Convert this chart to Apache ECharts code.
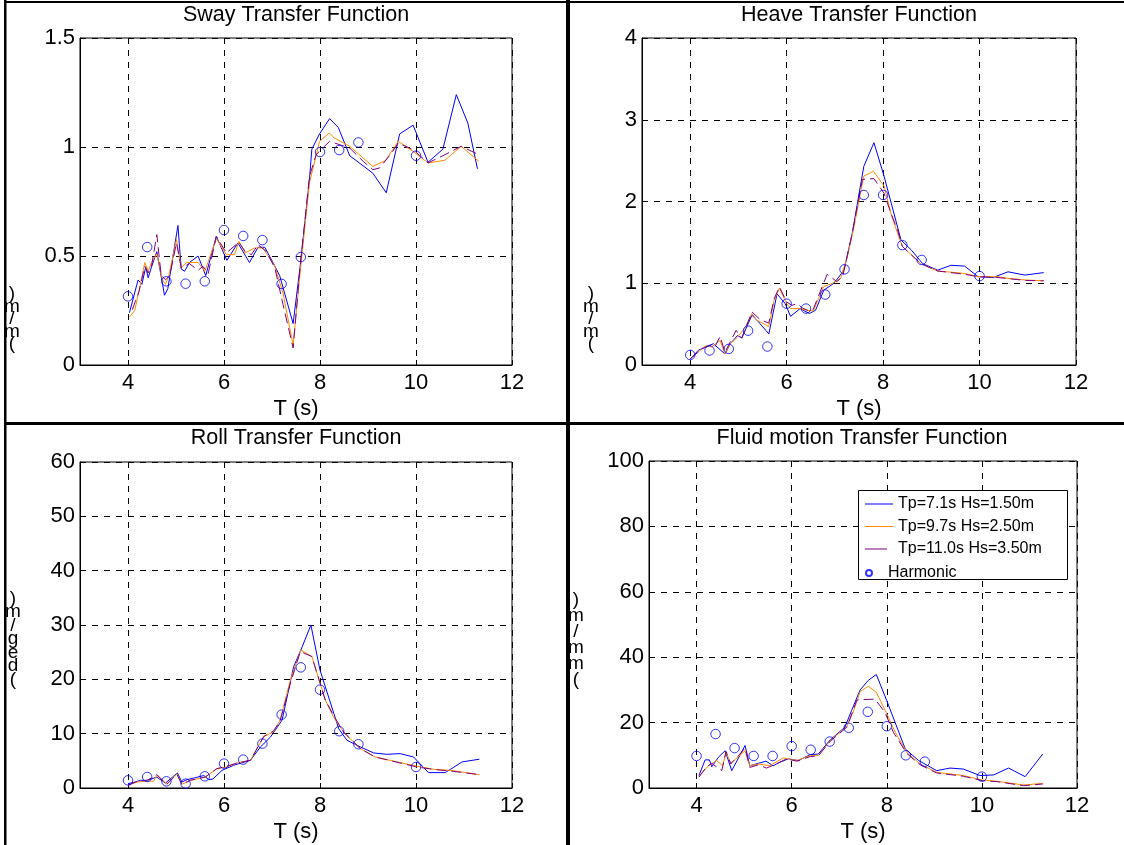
<!DOCTYPE html>
<html><head><meta charset="utf-8">
<script src="https://cdn.jsdelivr.net/npm/echarts@6/dist/echarts.min.js"></script>
<style>html,body{margin:0;padding:0;background:#fff}#c{width:1124px;height:845px}</style>
</head><body><div id="c"></div>
<script>
// ---------- data ----------
const xTicks = [4, 6, 8, 10, 12];
const seriesNames = ['Tp=7.1s Hs=1.50m', 'Tp=9.7s Hs=2.50m', 'Tp=11.0s Hs=3.50m', 'Harmonic'];
const harmonicT = [4.0, 4.4, 4.8, 5.2, 5.6, 6.0, 6.4, 6.8, 7.2, 7.6, 8.0, 8.4, 8.8, 10.0];

// Sway
const swayTp71 = [[4.03,0.24],[4.21,0.39],[4.29,0.37],[4.37,0.45],[4.42,0.40],[4.49,0.45],[4.60,0.52],[4.76,0.32],[4.83,0.35],[5.04,0.64],[5.11,0.44],[5.18,0.43],[5.28,0.47],[5.46,0.50],[5.62,0.41],[5.84,0.59],[6.06,0.48],[6.29,0.56],[6.53,0.47],[6.71,0.54],[6.85,0.54],[7.02,0.47],[7.16,0.41],[7.44,0.19],[7.58,0.44],[7.78,0.85],[7.83,0.99],[7.99,1.06],[8.20,1.13],[8.38,1.09],[8.62,0.96],[9.10,0.88],[9.38,0.79],[9.66,1.06],[9.94,1.10],[10.25,0.93],[10.56,0.99],[10.84,1.24],[11.08,1.11],[11.28,0.90]];
const swayTp97 = [[4.03,0.22],[4.14,0.25],[4.23,0.34],[4.35,0.47],[4.42,0.43],[4.49,0.47],[4.60,0.51],[4.72,0.39],[4.78,0.37],[4.85,0.41],[5.01,0.575],[5.11,0.445],[5.22,0.47],[5.46,0.47],[5.60,0.43],[5.84,0.58],[6.05,0.506],[6.22,0.506],[6.31,0.567],[6.44,0.514],[6.64,0.537],[6.81,0.537],[7.06,0.453],[7.23,0.33],[7.37,0.17],[7.44,0.09],[7.58,0.41],[7.78,0.835],[7.99,1.026],[8.19,1.064],[8.31,1.04],[8.62,1.003],[9.10,0.911],[9.37,0.939],[9.63,1.026],[9.94,0.98],[10.25,0.927],[10.60,0.939],[10.94,1.003],[11.31,0.934]];
const swayTp110 = [[4.09,0.254],[4.23,0.338],[4.35,0.453],[4.42,0.422],[4.49,0.453],[4.60,0.598],[4.69,0.414],[4.78,0.391],[4.87,0.41],[5.01,0.56],[5.11,0.445],[5.28,0.465],[5.46,0.434],[5.56,0.453],[5.67,0.419],[5.84,0.59],[6.05,0.514],[6.31,0.563],[6.44,0.521],[6.57,0.506],[6.71,0.552],[6.88,0.521],[7.06,0.445],[7.23,0.277],[7.44,0.078],[7.58,0.437],[7.78,0.865],[7.92,0.965],[8.20,1.026],[8.62,0.995],[8.90,0.934],[9.10,0.896],[9.24,0.904],[9.49,0.972],[9.63,1.018],[9.94,0.988],[10.25,0.927],[10.56,0.96],[10.94,1.003],[11.31,0.965]];
const swayHarmonic = [0.315,0.541,0.384,0.373,0.384,0.619,0.592,0.573,0.372,0.495,0.977,0.986,1.021,0.960];

// Heave
const heaveTp71 = [[4.0,0.074],[4.17,0.18],[4.31,0.22],[4.48,0.26],[4.72,0.135],[4.83,0.26],[4.98,0.36],[5.07,0.33],[5.28,0.61],[5.42,0.525],[5.63,0.38],[5.80,0.87],[5.97,0.75],[6.08,0.595],[6.28,0.69],[6.47,0.63],[6.6,0.67],[6.77,0.915],[6.98,1.0],[7.19,1.16],[7.36,1.61],[7.60,2.43],[7.81,2.72],[8.02,2.31],[8.37,1.53],[8.58,1.41],[8.82,1.24],[9.13,1.16],[9.41,1.22],[9.69,1.21],[9.97,1.08],[10.28,1.07],[10.59,1.14],[10.94,1.10],[11.33,1.13]];
const heaveTp97 = [[4.0,0.074],[4.24,0.197],[4.34,0.24],[4.44,0.22],[4.62,0.30],[4.72,0.135],[4.83,0.26],[4.98,0.34],[5.14,0.46],[5.28,0.63],[5.38,0.55],[5.63,0.47],[5.74,0.79],[5.85,0.94],[6.0,0.75],[6.08,0.69],[6.28,0.69],[6.42,0.67],[6.55,0.66],[6.77,0.96],[6.95,1.0],[7.12,1.06],[7.26,1.33],[7.4,1.70],[7.60,2.31],[7.80,2.37],[8.02,2.19],[8.16,1.86],[8.30,1.61],[8.40,1.45],[8.78,1.24],[9.13,1.15],[9.69,1.12],[9.97,1.08],[10.38,1.08],[10.59,1.06],[10.94,1.04],[11.33,1.03]];
const heaveTp110 = [[4.0,0.074],[4.24,0.197],[4.41,0.24],[4.51,0.22],[4.62,0.35],[4.72,0.156],[4.95,0.423],[5.07,0.33],[5.28,0.65],[5.45,0.554],[5.63,0.513],[5.74,0.81],[5.85,0.956],[6.0,0.77],[6.11,0.73],[6.22,0.75],[6.32,0.70],[6.46,0.66],[6.55,0.68],[6.84,1.11],[7.04,1.02],[7.16,1.08],[7.36,1.61],[7.57,2.27],[7.81,2.28],[8.02,2.1],[8.16,1.86],[8.30,1.65],[8.40,1.45],[8.78,1.24],[9.13,1.15],[9.69,1.11],[9.97,1.08],[10.38,1.07],[10.94,1.035],[11.33,1.03]];
const heaveHarmonic = [0.123,0.177,0.197,0.42,0.226,0.75,0.69,0.862,1.17,2.08,2.08,1.466,1.285,1.088];

// Roll
const rollTp71 = [[4.0,0.8],[4.15,1.1],[4.26,1.41],[4.40,1.41],[4.60,2.0],[4.78,0.92],[5.03,2.77],[5.12,1.1],[5.23,1.54],[5.40,1.9],[5.58,2.3],[5.68,1.54],[5.77,1.66],[5.96,3.26],[6.2,4.18],[6.55,5.1],[6.76,7.56],[6.97,9.4],[7.21,12.5],[7.45,22.3],[7.63,26.0],[7.81,30.0],[8.0,21.7],[8.39,10.9],[8.56,8.8],[8.84,7.56],[9.12,6.45],[9.40,6.2],[9.67,6.33],[9.95,5.7],[10.26,2.83],[10.61,2.83],[10.96,4.8],[11.32,5.3]];
const rollTp97 = [[4.0,0.5],[4.19,1.1],[4.40,1.3],[4.53,1.23],[4.60,2.3],[4.81,0.8],[5.02,2.6],[5.12,0.68],[5.30,1.41],[5.61,2.0],[5.85,3.56],[6.06,3.87],[6.27,4.6],[6.55,5.1],[6.83,9.5],[7.03,10.3],[7.17,12.5],[7.38,19.8],[7.60,25.4],[7.83,24.2],[8.11,16.2],[8.28,13.1],[8.49,10.3],[8.84,7.25],[9.15,5.7],[10.02,4.0],[10.4,3.4],[10.72,3.26],[11.32,2.46]];
const rollTp110 = [[4.0,0.5],[4.19,1.23],[4.40,1.41],[4.60,2.46],[4.81,0.68],[5.02,2.52],[5.12,0.68],[5.30,1.41],[5.61,2.03],[5.85,3.56],[6.06,4.0],[6.27,4.6],[6.55,5.1],[6.83,9.5],[7.03,10.5],[7.17,12.35],[7.38,19.2],[7.59,25.1],[7.83,24.2],[8.11,16.2],[8.28,13.4],[8.49,10.3],[8.84,7.25],[9.15,5.7],[10.02,3.87],[10.4,3.38],[10.72,3.13],[11.32,2.46]];
const rollHarmonic = [1.41,2.03,1.23,0.80,2.15,4.49,5.22,8.17,13.5,22.2,18.1,10.45,8.05,3.87];

// Fluid motion
const fluidTp71 = [[4.05,3.8],[4.18,8.6],[4.27,8.6],[4.32,6.5],[4.46,9.4],[4.6,11.4],[4.74,5.3],[5.02,13.0],[5.12,6.8],[5.3,7.55],[5.46,8.2],[5.61,6.8],[5.75,7.9],[5.93,8.9],[6.14,8.4],[6.39,10.2],[6.56,10.4],[6.81,14.7],[7.12,18.6],[7.26,23.7],[7.44,30.0],[7.61,32.9],[7.78,34.7],[8.0,26.7],[8.39,11.9],[8.67,8.4],[9.05,5.3],[9.33,6.1],[9.61,5.8],[9.96,3.8],[10.25,4.0],[10.56,6.1],[10.91,3.47],[11.28,10.4]];
const fluidTp97 = [[4.05,3.6],[4.25,6.8],[4.42,8.4],[4.55,6.8],[4.62,10.9],[4.72,7.6],[5.02,11.4],[5.12,6.8],[5.3,7.35],[5.54,6.8],[5.82,9.2],[6.11,8.4],[6.39,9.9],[6.56,9.9],[6.81,14.5],[7.16,18.8],[7.30,23.5],[7.44,29.5],[7.61,31.1],[7.78,29.3],[8.0,22.7],[8.18,17.0],[8.42,10.9],[8.70,7.35],[9.05,4.8],[9.61,3.8],[10.0,2.45],[10.32,2.04],[10.88,0.92],[11.28,1.43]];
const fluidTp110 = [[4.05,3.3],[4.21,6.5],[4.32,7.55],[4.53,5.3],[4.62,11.2],[4.72,7.35],[5.02,12.2],[5.12,6.3],[5.30,7.1],[5.47,6.1],[5.68,7.35],[5.89,8.9],[6.11,8.2],[6.39,9.6],[6.56,9.8],[6.81,14.3],[7.16,18.6],[7.37,26.9],[7.75,27.2],[7.96,23.2],[8.14,17.0],[8.42,10.6],[8.70,7.1],[9.05,4.6],[9.61,3.6],[10.0,2.25],[10.32,1.94],[10.88,0.71],[11.28,1.22]];
const fluidHarmonic = [9.8,16.5,12.2,9.8,9.8,12.8,11.7,14.2,18.4,23.3,18.9,10.0,8.06,3.47];

const panelTitles = ['Sway Transfer Function', 'Heave Transfer Function', 'Roll Transfer Function', 'Fluid motion Transfer Function'];
const yMax = [1.5, 4, 60, 100];
const yStep = [0.5, 1, 10, 20];

// ---------- chart ----------
const FF = '"Liberation Sans", Arial, sans-serif';
const colors = ['#0000ff', '#ff8c00', '#800080', '#0000ff'];
const panels = [
  [swayTp71, swayTp97, swayTp110, swayHarmonic],
  [heaveTp71, heaveTp97, heaveTp110, heaveHarmonic],
  [rollTp71, rollTp97, rollTp110, rollHarmonic],
  [fluidTp71, fluidTp97, fluidTp110, fluidHarmonic]
];
const grids = [
  {left: 80, top: 38, width: 432, height: 327},
  {left: 642, top: 38, width: 434, height: 327},
  {left: 80, top: 462, width: 432, height: 326},
  {left: 649, top: 461, width: 428, height: 327}
];
const titlePos = [[296, 4], [859, 4], [296, 427], [862, 427]];

const xAxis = grids.map((g, i) => ({
  type: 'value', gridIndex: i, min: 3, max: 12,
  axisLine: {show: true, onZero: false, lineStyle: {color: '#000', width: 1}},
  axisTick: {show: true, inside: true, length: 5, customValues: xTicks, lineStyle: {color: '#000'}},
  axisLabel: {customValues: xTicks, fontSize: 22, color: '#000', margin: 7, fontFamily: FF},
  splitLine: {show: true, lineStyle: {color: '#000', width: 1, type: [6, 6]}},
  name: 'T (s)', nameLocation: 'middle', nameGap: 33,
  nameTextStyle: {fontSize: 22, color: '#000', fontFamily: FF}
}));
const yAxis = grids.map((g, i) => ({
  type: 'value', gridIndex: i, min: 0, max: yMax[i], interval: yStep[i],
  axisLine: {show: true, lineStyle: {color: '#000', width: 1}},
  axisTick: {show: true, inside: true, length: 5, lineStyle: {color: '#000'}},
  axisLabel: {fontSize: 22, color: '#000', margin: 5, fontFamily: FF},
  splitLine: {show: true, lineStyle: {color: '#000', width: 1, type: [6, 6]}}
}));

const series = [];
panels.forEach((p, i) => {
  for (let k = 0; k < 3; k++) {
    series.push({
      type: 'line', name: seriesNames[k], xAxisIndex: i, yAxisIndex: i,
      data: p[k], symbol: 'none', silent: true, animation: false,
      lineStyle: {color: colors[k], width: 1, type: k === 2 ? [10, 5] : 'solid'},
      itemStyle: {color: colors[k]}, z: 2 + k * 0.1
    });
  }
  series.push({
    type: 'scatter', name: seriesNames[3], xAxisIndex: i, yAxisIndex: i,
    data: harmonicT.map((t, j) => [t, p[3][j]]),
    symbol: 'circle', symbolSize: 9.5, animation: false, silent: true,
    itemStyle: {color: 'rgba(0,0,0,0)', borderColor: '#0000ff', borderWidth: 1}, z: 3
  });
});

const title = panelTitles.map((t, i) => ({
  text: t, left: titlePos[i][0], top: titlePos[i][1], textAlign: 'center', padding: 0,
  textStyle: {fontSize: 21.5, fontWeight: 'normal', color: '#000', fontFamily: FF}
}));

function yLabel(text, x, y, lh) {
  return {type: 'text', x: x, y: y, z: 10,
    style: {text: text, fill: '#000', fontSize: 19, fontFamily: FF, align: 'center', verticalAlign: 'top', lineHeight: lh}};
}
function bar(x, y, w, h) {
  return {type: 'rect', shape: {x: x, y: y, width: w, height: h}, style: {fill: '#000'}, z: 20, silent: true};
}
const lineIcon = 'path://M0,0h28v1h-28z';
const dashIcon = 'path://M0,0h22v1h-22zM27.9,0h0.1v1h-0.1z';

const option = {
  animation: false,
  backgroundColor: '#fff',
  title: title,
  grid: grids.map(g => Object.assign({show: true, borderColor: '#000', borderWidth: 1, backgroundColor: 'transparent'}, g)),
  xAxis: xAxis,
  yAxis: yAxis,
  legend: [
    {data: [{name: seriesNames[0], icon: lineIcon}, {name: seriesNames[1], icon: lineIcon}, {name: seriesNames[2], icon: dashIcon}],
     orient: 'vertical', left: 865, top: 496, itemWidth: 28, itemHeight: 14,
     itemGap: 6.5, padding: 0, selectedMode: false, z: 6,
     textStyle: {fontSize: 16, color: '#000', fontFamily: FF}},
    {data: [{name: 'Harmonic', icon: 'circle'}], orient: 'vertical', left: 865, top: 565, itemWidth: 28, itemHeight: 6,
     padding: 0, selectedMode: false, z: 6,
     textStyle: {fontSize: 16, color: '#000', fontFamily: FF}}
  ],
  graphic: [
    {type: 'rect', shape: {x: 858.5, y: 490.5, width: 209, height: 89}, style: {fill: '#fff', stroke: '#000', lineWidth: 1}, z: 5, silent: true},
    yLabel(')\nm\n/\nm\n(', 12, 288, 12.5),
    yLabel(')\nm\n/\nm\n(', 591, 288, 12.5),
    yLabel(')\nm\n/\ng\ne\nd\n(', 13, 592, 13.5),
    yLabel(')\nm\n/\nm\nm\n(', 576, 592, 16),
    bar(4, 0, 2.5, 845),
    bar(4, 1, 1120, 2),
    bar(566, 0, 4, 845),
    bar(4, 422, 1120, 3)
  ],
  series: series
};

const chart = echarts.init(document.getElementById('c'), null, {renderer: 'canvas'});
chart.setOption(option);
</script>
</body></html>
